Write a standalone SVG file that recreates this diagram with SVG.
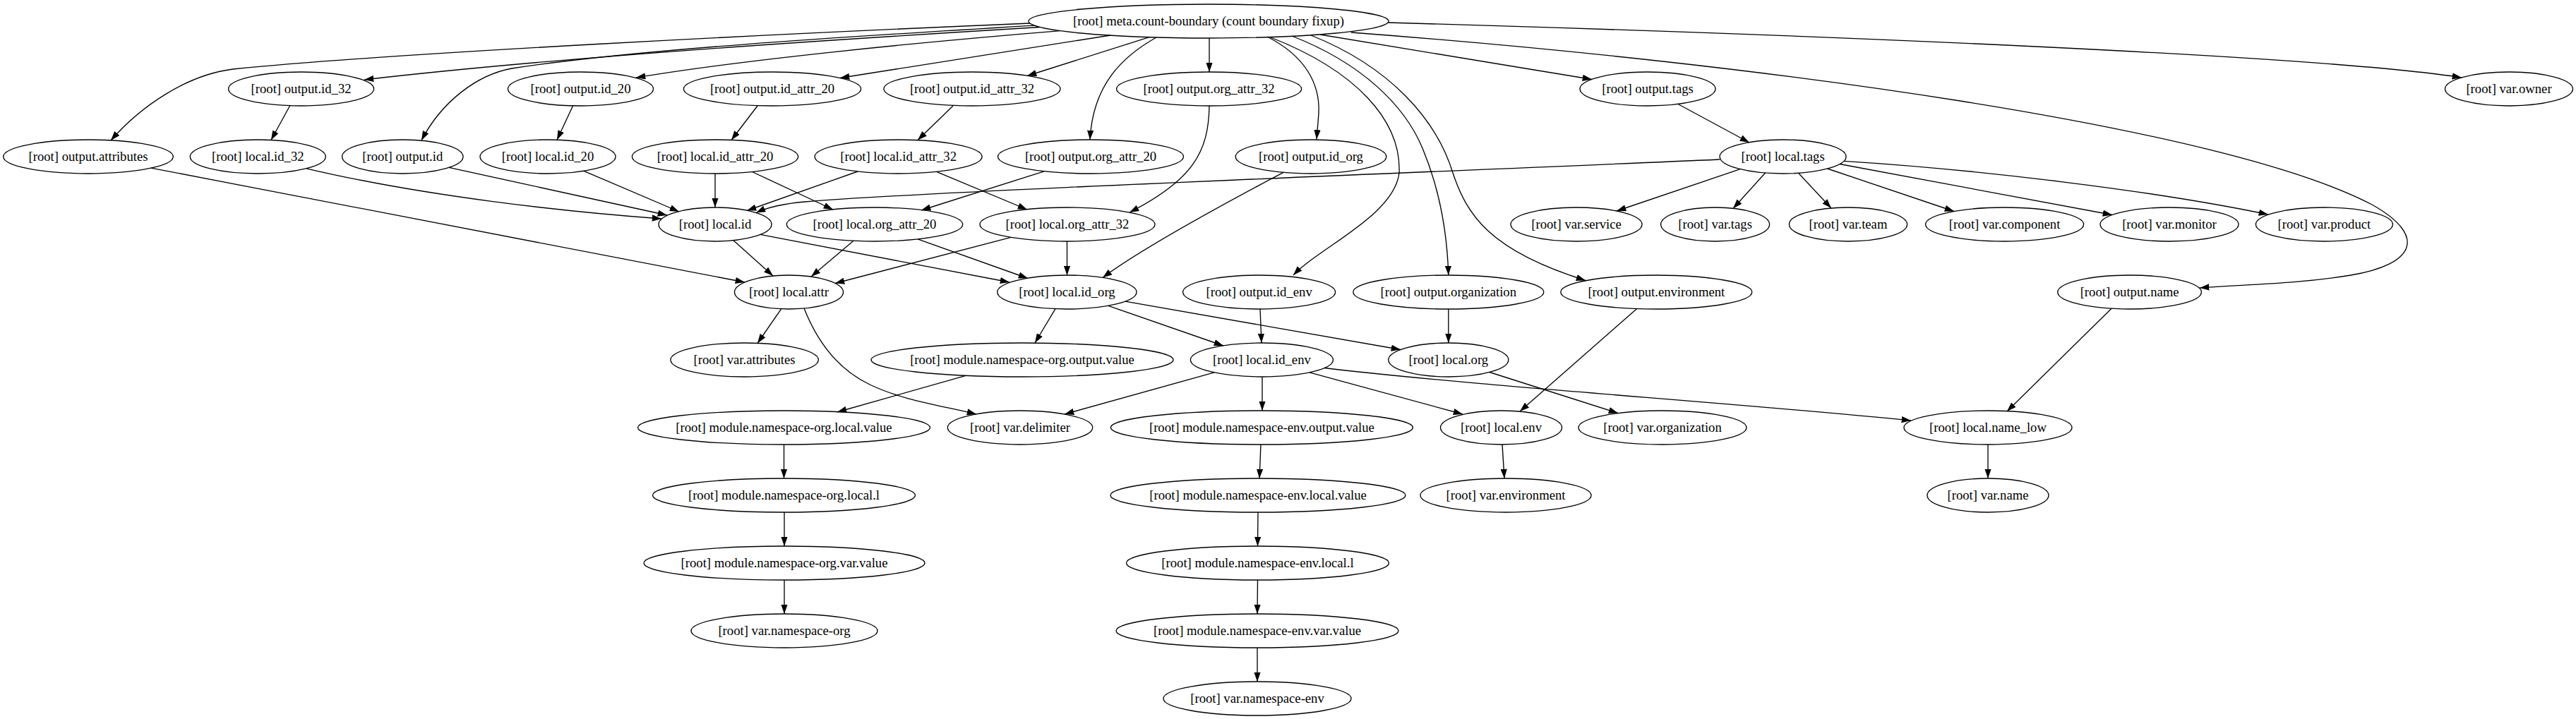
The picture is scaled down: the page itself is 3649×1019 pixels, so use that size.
<svg xmlns="http://www.w3.org/2000/svg" width="3649" height="1019" viewBox="0 0 3649 1019">
<defs>
<style>
.n ellipse{fill:none;stroke:#000;stroke-width:1.33}
.n text{font-family:"Liberation Serif","Times New Roman",serif;font-size:18.67px;text-anchor:middle;fill:#000}
#edges path{fill:none;stroke:#000;stroke-width:1.33;marker-end:url(#arr)}
</style>
<marker id="arr" markerUnits="userSpaceOnUse" viewBox="0 0 13.33 9.33" refX="13.33" refY="4.67" markerWidth="13.33" markerHeight="9.33" orient="auto">
<path d="M0,0 L13.33,4.67 L0,9.33 z" fill="#000"/>
</marker>
</defs>
<rect width="3649" height="1019" fill="#fff"/>
<g id="edges">
<path d="M1459,33 C1100,48 560,75 330,98 C265,106 200,150 157,199"/>
<path d="M1473,38.5 C1200,55 800,80 516,113"/>
<path d="M1465,36 C1200,52 900,70 725,97 C675,106 625,145 597,199"/>
<path d="M1502,43.6 C1300,60 1050,85 901,110"/>
<path d="M1573,50 L1190,110.5"/>
<path d="M1628,52.6 L1455,107.5"/>
<path d="M1713,54 L1713,102"/>
<path d="M1638,53 C1590,80 1548,120 1544,198"/>
<path d="M1795,52 C1850,80 1870,120 1868,160 C1867,175 1866,185 1865,197.5"/>
<path d="M1800,53 C1920,100 1985,170 1982,245 C1975,305 1870,350 1832,390"/>
<path d="M1830,51 C1930,90 1990,150 2015,210 C2040,270 2050,330 2051.8,390"/>
<path d="M1857,50 C1970,95 2035,170 2058,245 C2078,305 2110,355 2246,397.5"/>
<path d="M1870,49 L2255,112.5"/>
<path d="M1914,46 C2500,90 3150,180 3360,290 C3440,335 3420,375 3330,390 C3250,403 3180,403 3116,408"/>
<path d="M1966,32 C2600,50 3300,80 3487,110"/>
<path d="M410.7,149.7 L384,198.5"/>
<path d="M811.5,150 L789,198.2"/>
<path d="M1073,150 L1036,198.5"/>
<path d="M1350,150 L1300,198.6"/>
<path d="M1713,150 C1712,215 1690,255 1600,301"/>
<path d="M2377,147.5 L2478,202"/>
<path d="M434,238.8 C600,278 800,300 937,310"/>
<path d="M636,237.4 L945,305"/>
<path d="M827,242.3 L962,300"/>
<path d="M1013,246 L1013,294"/>
<path d="M1065.5,243.5 L1180,297"/>
<path d="M1215,243 L1058,298.5"/>
<path d="M1326.6,243.4 L1455,297"/>
<path d="M1479,242.8 L1305,298"/>
<path d="M2436,226 C2000,245 1300,272 1140,286 C1105,289 1085,295 1071,301.5"/>
<path d="M2465,239.7 L2290,299"/>
<path d="M2500.6,245 L2455,295.5"/>
<path d="M2547.6,245.3 L2594,295"/>
<path d="M2588.6,239 L2768,299.5"/>
<path d="M2606,232.5 L2992,304.5"/>
<path d="M2612,228.3 C2800,240 3050,270 3213,304"/>
<path d="M214,238.1 L1055,400"/>
<path d="M1039,340.7 L1095,391"/>
<path d="M1077,332.4 L1430,400"/>
<path d="M1209,341.3 L1149,392"/>
<path d="M1300,338.9 L1456,394.5"/>
<path d="M1432,336.3 L1183,401.5"/>
<path d="M1511.5,342 L1511.5,390"/>
<path d="M1818,244.3 C1760,275 1620,350 1562,393.5"/>
<path d="M1106.6,437.8 L1073,486.5"/>
<path d="M1139,437 C1160,490 1190,525 1232,545 C1280,568 1335,575 1383,587"/>
<path d="M1495,437.7 L1466,486"/>
<path d="M1570,433.3 L1733,490"/>
<path d="M1594,427.1 L1984,495.5"/>
<path d="M1785,438 L1787,486"/>
<path d="M2051.8,438 L2051.8,486"/>
<path d="M2318.7,437.5 L2153,583"/>
<path d="M2991,437.2 L2843,583"/>
<path d="M1368,532.3 L1186,584"/>
<path d="M1720,527.9 L1508,587"/>
<path d="M1788,534 L1788,582"/>
<path d="M1855,527.8 L2072,587"/>
<path d="M1876,521.5 C2100,548 2450,570 2707,596"/>
<path d="M2110,527.5 L2292,585.5"/>
<path d="M2128,630 L2131,678"/>
<path d="M2816,630 L2816,678"/>
<path d="M1110.5,630 L1110.5,678"/>
<path d="M1786,630 L1784,678"/>
<path d="M1111,726 L1111,774"/>
<path d="M1782,726 L1781.5,774"/>
<path d="M1111,822 L1111,870"/>
<path d="M1781.5,822 L1781,870"/>
<path d="M1781,918 L1781,966"/>
</g>
<g id="meta_count_boundary" class="n"><ellipse cx="1712" cy="30" rx="255" ry="24"/><text x="1712" y="35.6">[root] meta.count-boundary (count boundary fixup)</text></g>
<g id="output_id_32" class="n"><ellipse cx="426.6" cy="126" rx="103" ry="24"/><text x="426.6" y="131.6">[root] output.id_32</text></g>
<g id="output_id_20" class="n"><ellipse cx="822.5" cy="126" rx="103" ry="24"/><text x="822.5" y="131.6">[root] output.id_20</text></g>
<g id="output_id_attr_20" class="n"><ellipse cx="1094" cy="126" rx="125.6" ry="24"/><text x="1094" y="131.6">[root] output.id_attr_20</text></g>
<g id="output_id_attr_32" class="n"><ellipse cx="1377" cy="126" rx="125" ry="24"/><text x="1377" y="131.6">[root] output.id_attr_32</text></g>
<g id="output_org_attr_32" class="n"><ellipse cx="1712.6" cy="126" rx="131" ry="24"/><text x="1712.6" y="131.6">[root] output.org_attr_32</text></g>
<g id="output_tags" class="n"><ellipse cx="2334" cy="126" rx="96" ry="24"/><text x="2334" y="131.6">[root] output.tags</text></g>
<g id="var_owner" class="n"><ellipse cx="3554" cy="126" rx="90.5" ry="24"/><text x="3554" y="131.6">[root] var.owner</text></g>
<g id="output_attributes" class="n"><ellipse cx="125" cy="222" rx="120.3" ry="24"/><text x="125" y="227.6">[root] output.attributes</text></g>
<g id="local_id_32" class="n"><ellipse cx="365.3" cy="222" rx="96" ry="24"/><text x="365.3" y="227.6">[root] local.id_32</text></g>
<g id="output_id" class="n"><ellipse cx="570.3" cy="222" rx="85.7" ry="24"/><text x="570.3" y="227.6">[root] output.id</text></g>
<g id="local_id_20" class="n"><ellipse cx="776" cy="222" rx="96" ry="24"/><text x="776" y="227.6">[root] local.id_20</text></g>
<g id="local_id_attr_20" class="n"><ellipse cx="1013" cy="222" rx="117.6" ry="24"/><text x="1013" y="227.6">[root] local.id_attr_20</text></g>
<g id="local_id_attr_32" class="n"><ellipse cx="1272.6" cy="222" rx="118.5" ry="24"/><text x="1272.6" y="227.6">[root] local.id_attr_32</text></g>
<g id="output_org_attr_20" class="n"><ellipse cx="1545" cy="222" rx="131.5" ry="24"/><text x="1545" y="227.6">[root] output.org_attr_20</text></g>
<g id="output_id_org" class="n"><ellipse cx="1857" cy="222" rx="106.8" ry="24"/><text x="1857" y="227.6">[root] output.id_org</text></g>
<g id="local_tags" class="n"><ellipse cx="2525.6" cy="222" rx="89.5" ry="24"/><text x="2525.6" y="227.6">[root] local.tags</text></g>
<g id="local_id" class="n"><ellipse cx="1013" cy="318" rx="80" ry="24"/><text x="1013" y="323.6">[root] local.id</text></g>
<g id="local_org_attr_20" class="n"><ellipse cx="1239" cy="318" rx="124.7" ry="24"/><text x="1239" y="323.6">[root] local.org_attr_20</text></g>
<g id="local_org_attr_32" class="n"><ellipse cx="1512" cy="318" rx="124" ry="24"/><text x="1512" y="323.6">[root] local.org_attr_32</text></g>
<g id="var_service" class="n"><ellipse cx="2233" cy="318" rx="93" ry="24"/><text x="2233" y="323.6">[root] var.service</text></g>
<g id="var_tags" class="n"><ellipse cx="2429.6" cy="318" rx="77" ry="24"/><text x="2429.6" y="323.6">[root] var.tags</text></g>
<g id="var_team" class="n"><ellipse cx="2618" cy="318" rx="83.6" ry="24"/><text x="2618" y="323.6">[root] var.team</text></g>
<g id="var_component" class="n"><ellipse cx="2839.6" cy="318" rx="112" ry="24"/><text x="2839.6" y="323.6">[root] var.component</text></g>
<g id="var_monitor" class="n"><ellipse cx="3073" cy="318" rx="98" ry="24"/><text x="3073" y="323.6">[root] var.monitor</text></g>
<g id="var_product" class="n"><ellipse cx="3292.4" cy="318" rx="97" ry="24"/><text x="3292.4" y="323.6">[root] var.product</text></g>
<g id="local_attr" class="n"><ellipse cx="1117.5" cy="414" rx="77" ry="24"/><text x="1117.5" y="419.6">[root] local.attr</text></g>
<g id="local_id_org" class="n"><ellipse cx="1511.4" cy="414" rx="98.6" ry="24"/><text x="1511.4" y="419.6">[root] local.id_org</text></g>
<g id="output_id_env" class="n"><ellipse cx="1783.6" cy="414" rx="108" ry="24"/><text x="1783.6" y="419.6">[root] output.id_env</text></g>
<g id="output_organization" class="n"><ellipse cx="2051.8" cy="414" rx="135" ry="24"/><text x="2051.8" y="419.6">[root] output.organization</text></g>
<g id="output_environment" class="n"><ellipse cx="2346.3" cy="414" rx="135.5" ry="24"/><text x="2346.3" y="419.6">[root] output.environment</text></g>
<g id="output_name" class="n"><ellipse cx="3016.6" cy="414" rx="101.8" ry="24"/><text x="3016.6" y="419.6">[root] output.name</text></g>
<g id="var_attributes" class="n"><ellipse cx="1054.6" cy="510" rx="104.7" ry="24"/><text x="1054.6" y="515.6">[root] var.attributes</text></g>
<g id="module_namespace_org_output_value" class="n"><ellipse cx="1448" cy="510" rx="214" ry="24"/><text x="1448" y="515.6">[root] module.namespace-org.output.value</text></g>
<g id="local_id_env" class="n"><ellipse cx="1787.4" cy="510" rx="101" ry="24"/><text x="1787.4" y="515.6">[root] local.id_env</text></g>
<g id="local_org" class="n"><ellipse cx="2051.8" cy="510" rx="85" ry="24"/><text x="2051.8" y="515.6">[root] local.org</text></g>
<g id="module_namespace_org_local_value" class="n"><ellipse cx="1110.5" cy="606" rx="207" ry="24"/><text x="1110.5" y="611.6">[root] module.namespace-org.local.value</text></g>
<g id="var_delimiter" class="n"><ellipse cx="1445" cy="606" rx="102.7" ry="24"/><text x="1445" y="611.6">[root] var.delimiter</text></g>
<g id="module_namespace_env_output_value" class="n"><ellipse cx="1787.4" cy="606" rx="214" ry="24"/><text x="1787.4" y="611.6">[root] module.namespace-env.output.value</text></g>
<g id="local_env" class="n"><ellipse cx="2126.5" cy="606" rx="86" ry="24"/><text x="2126.5" y="611.6">[root] local.env</text></g>
<g id="var_organization" class="n"><ellipse cx="2355" cy="606" rx="119" ry="24"/><text x="2355" y="611.6">[root] var.organization</text></g>
<g id="local_name_low" class="n"><ellipse cx="2816" cy="606" rx="119" ry="24"/><text x="2816" y="611.6">[root] local.name_low</text></g>
<g id="module_namespace_org_local_l" class="n"><ellipse cx="1110.5" cy="702" rx="186" ry="24"/><text x="1110.5" y="707.6">[root] module.namespace-org.local.l</text></g>
<g id="module_namespace_env_local_value" class="n"><ellipse cx="1782" cy="702" rx="209" ry="24"/><text x="1782" y="707.6">[root] module.namespace-env.local.value</text></g>
<g id="var_environment" class="n"><ellipse cx="2133" cy="702" rx="121" ry="24"/><text x="2133" y="707.6">[root] var.environment</text></g>
<g id="var_name" class="n"><ellipse cx="2816" cy="702" rx="86" ry="24"/><text x="2816" y="707.6">[root] var.name</text></g>
<g id="module_namespace_org_var_value" class="n"><ellipse cx="1111" cy="798" rx="199" ry="24"/><text x="1111" y="803.6">[root] module.namespace-org.var.value</text></g>
<g id="module_namespace_env_local_l" class="n"><ellipse cx="1781.5" cy="798" rx="186" ry="24"/><text x="1781.5" y="803.6">[root] module.namespace-env.local.l</text></g>
<g id="var_namespace_org" class="n"><ellipse cx="1111" cy="894" rx="132" ry="24"/><text x="1111" y="899.6">[root] var.namespace-org</text></g>
<g id="module_namespace_env_var_value" class="n"><ellipse cx="1781" cy="894" rx="200" ry="24"/><text x="1781" y="899.6">[root] module.namespace-env.var.value</text></g>
<g id="var_namespace_env" class="n"><ellipse cx="1781" cy="990" rx="133" ry="24"/><text x="1781" y="995.6">[root] var.namespace-env</text></g>
</svg>
